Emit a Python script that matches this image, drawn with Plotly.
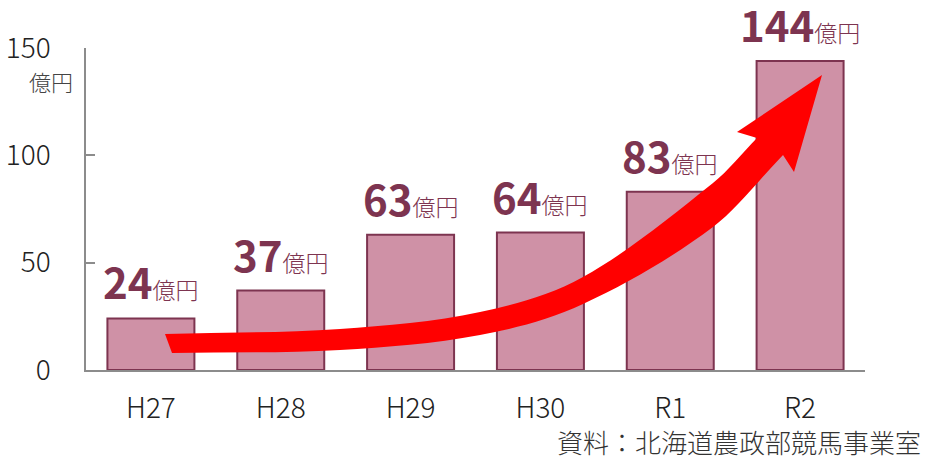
import plotly.graph_objects as go

# Revenue by fiscal year (億円)
years = ["H27", "H28", "H29", "H30", "R1", "R2"]
sales = [24, 37, 63, 64, 83, 144]
y_ticks = [0, 50, 100, 150]
unit = "億円"
source = "資料：北海道農政部競馬事業室"

FONT = "Noto Sans CJK JP"
BAR_FILL = "#CF91A6"
MAROON = "#7D3450"
AXIS_GREY = "#8C8C8C"

x_idx = list(range(len(years)))

fig = go.Figure()
fig.add_trace(go.Bar(
    x=x_idx,
    y=sales,
    width=0.67,
    marker=dict(color=BAR_FILL, line=dict(color=MAROON, width=2)),
    hoverinfo="skip",
))

# value labels above the bars
for i, v in zip(x_idx, sales):
    fig.add_annotation(
        x=i, y=v, xref="x", yref="y",
        text=f"<b>{v}</b><span style='font-size:23px;font-weight:300'>{unit}</span>",
        showarrow=False, yanchor="bottom", xanchor="center", yshift=5,
        font=dict(family=FONT, size=42, color=MAROON),
    )

# growth arrow outline (data coordinates: x = year index, y = 億円)
arrow_upper = [(0.1085, 16.77), (1.4564, 19.10), (2.5347, 27.02), (3.328, 43.32),
               (4.3293, 87.11), (4.6682, 108.07)]
arrow_head = [(4.5141, 110.87), (5.1688, 137.42), (4.9532, 92.24)]
arrow_lower = [(4.8685, 100.16), (4.3293, 66.62), (3.328, 30.75),
               (2.5347, 16.30), (1.4564, 9.32), (0.1624, 7.92)]


def smooth_path(pts):
    """Cubic Hermite curve through pts (parametrised by x), as SVG cubics."""
    n = len(pts)
    slopes = []
    for k in range(n):
        a = pts[max(k - 1, 0)]
        b = pts[min(k + 1, n - 1)]
        slopes.append((b[1] - a[1]) / (b[0] - a[0]))
    out = ""
    for k in range(n - 1):
        (x0, y0), (x1, y1) = pts[k], pts[k + 1]
        dx = (x1 - x0) / 3
        c1 = (x0 + dx, y0 + slopes[k] * dx)
        c2 = (x1 - dx, y1 - slopes[k + 1] * dx)
        out += f"C {c1[0]:.4f},{c1[1]:.4f} {c2[0]:.4f},{c2[1]:.4f} {x1:.4f},{y1:.4f} "
    return out


path = f"M {arrow_upper[0][0]},{arrow_upper[0][1]} " + smooth_path(arrow_upper)
for x, y in arrow_head:
    path += f"L {x},{y} "
path += f"L {arrow_lower[0][0]},{arrow_lower[0][1]} " + smooth_path(arrow_lower) + "Z"

fig.add_shape(type="path", path=path, xref="x", yref="y",
              fillcolor="#FF0000", line=dict(width=0), layer="above")

# unit caption under the top tick
fig.add_annotation(
    x=0, y=1, xref="paper", yref="paper", xanchor="right", yanchor="top",
    xshift=-11, yshift=-15, text=unit, showarrow=False,
    font=dict(family=FONT, size=22, color="#444444", weight=300),
)

# data source
fig.add_annotation(
    x=1, y=0, xref="paper", yref="paper", xanchor="right", yanchor="bottom",
    xshift=58, yshift=-92, text=source, showarrow=False,
    font=dict(family=FONT, size=26, color="#333333", weight=300),
)

fig.update_layout(
    width=927, height=460,
    margin=dict(l=86, r=62, t=48, b=90, autoexpand=False),
    paper_bgcolor="white", plot_bgcolor="white",
    showlegend=False,
    font=dict(family=FONT, color="#222222"),
)
fig.update_xaxes(
    range=[-0.5, 5.5], tickvals=x_idx, ticktext=years,
    showgrid=False, zeroline=False, showline=True,
    linecolor=AXIS_GREY, linewidth=2, ticks="",
    tickfont=dict(family=FONT, size=28, color="#222222", weight=300),
    ticklabelstandoff=12, automargin=False,
)
fig.update_yaxes(
    range=[0, 150], tickvals=y_ticks,
    showgrid=False, zeroline=False, showline=True,
    linecolor=AXIS_GREY, linewidth=1.5,
    ticks="inside", ticklen=9, tickcolor=AXIS_GREY, tickwidth=1.5,
    tickfont=dict(family=FONT, size=28, color="#222222", weight=300),
    ticklabelstandoff=28, automargin=False,
)

fig.write_html("out.html")
